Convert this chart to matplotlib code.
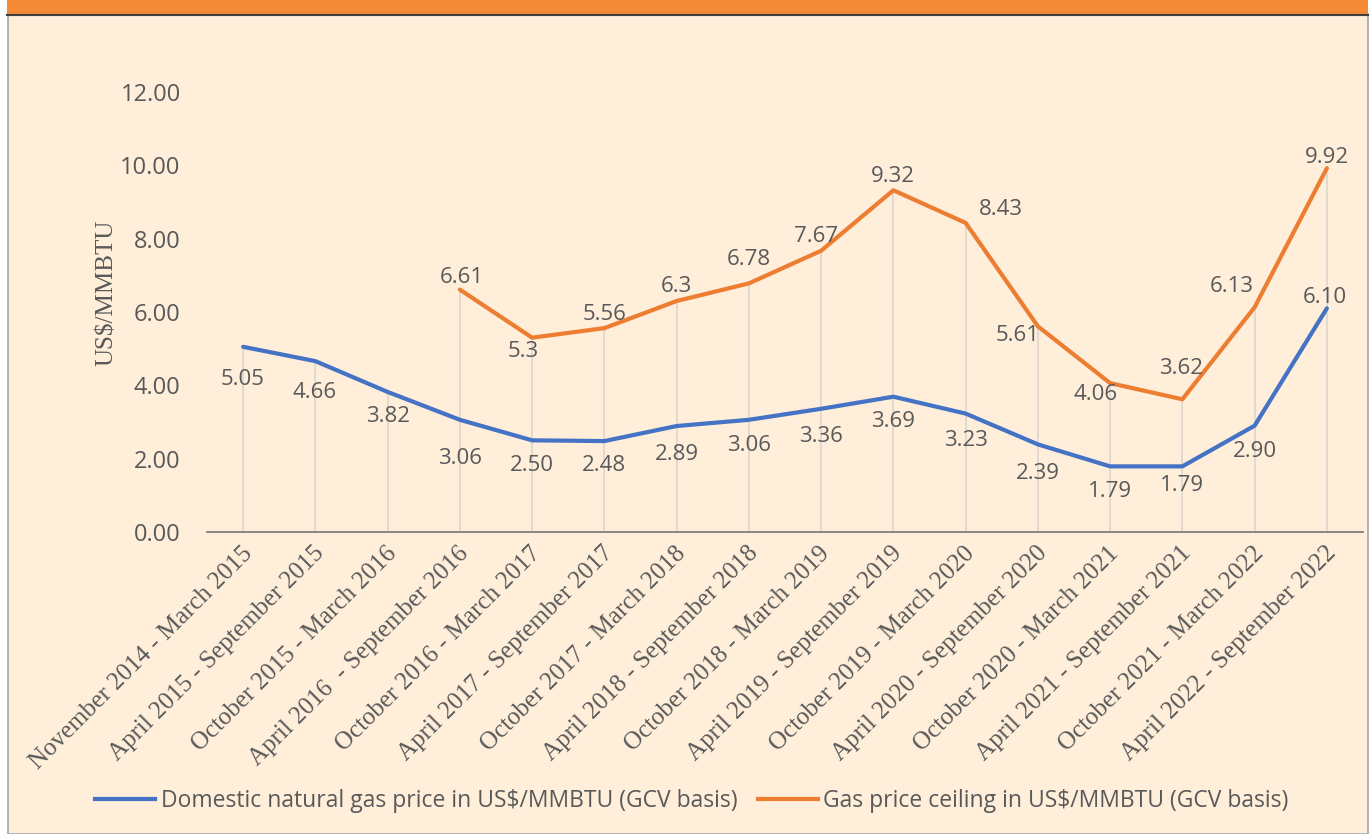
import numpy as np
import matplotlib.pyplot as plt
import matplotlib.transforms as mtrans
from matplotlib.patches import Rectangle
from matplotlib.lines import Line2D

periods = [
    'November 2014 - March 2015', 'April 2015 - September 2015',
    'October 2015 - March 2016', 'April 2016  - September 2016',
    'October 2016 - March 2017', 'April 2017 - September 2017',
    'October 2017 - March 2018', 'April 2018 - September 2018',
    'October 2018 - March 2019', 'April 2019 - September 2019',
    'October 2019 - March 2020', 'April 2020 - September 2020',
    'October 2020 - March 2021', 'April 2021 - September 2021',
    'October 2021 - March 2022', 'April 2022 - September 2022',
]
domestic = [5.05, 4.66, 3.82, 3.06, 2.50, 2.48, 2.89, 3.06, 3.36, 3.69,
            3.23, 2.39, 1.79, 1.79, 2.90, 6.10]
ceiling = [np.nan, np.nan, np.nan, 6.61, 5.3, 5.56, 6.3, 6.78, 7.67, 9.32,
           8.43, 5.61, 4.06, 3.62, 6.13, 9.92]
ceiling_txt = ['', '', '', '6.61', '5.3', '5.56', '6.3', '6.78', '7.67', '9.32',
               '8.43', '5.61', '4.06', '3.62', '6.13', '9.92']

# label placement (pixels from the point)
dom_off = [(-1, -33), (-1, -31), (0, -25), (0, -39), (0, -25), (0, -24), (0, -28),
           (0, -26), (0, -28), (0, -25), (0, -27), (0, -29), (0, -25), (0, -19),
           (0, -26), (-2, 11)]
ceil_off = [(0, 0), (0, 0), (0, 0), (2, 12), (-9, -14), (0, 14), (0, 14), (0, 24),
            (-5, 14), (0, 14), (35, 13), (-20, -9), (-15, -11), (-1, 31),
            (-23, 21), (0, 11)]

BLUE = '#4472C4'
ORANGE = '#ED7D31'
GREY = '#595959'
BG = '#FEEEDA'

W, H = 1371, 834
fig = plt.figure(figsize=(W / 100, H / 100), dpi=100, facecolor='white')

# panel background, border and orange header strip
fig.patches.append(Rectangle((8 / W, 0), 1360 / W, 1 - 14 / H, transform=fig.transFigure,
                             facecolor=BG, edgecolor='#A6A6A6', lw=1.2, zorder=-10))
fig.patches.append(Rectangle((7 / W, 1 - 14 / H), 1361 / W, 14 / H, transform=fig.transFigure,
                             facecolor='#F58A36', edgecolor='none', zorder=-9))
fig.lines.append(Line2D([7 / W, 1368 / W], [1 - 14.5 / H] * 2, transform=fig.transFigure,
                        color='#404040', lw=1.5, zorder=-8))

ax = fig.add_axes([207 / W, 1 - 532 / H, (1363 - 207) / W, (532 - 92) / H])
ax.set_facecolor('none')
x = np.arange(len(periods))

# drop lines
tops = np.fmax(np.array(domestic), np.array(ceiling))
ax.vlines(x, 0, tops, color='#DCD6CE', lw=1.2, zorder=1)

ax.plot(x, domestic, color=BLUE, lw=3, solid_capstyle='round', zorder=3)
ax.plot(x, ceiling, color=ORANGE, lw=3, solid_capstyle='round', zorder=3)

for i, v in enumerate(domestic):
    ax.annotate(f'{v:.2f}', (i, v), xytext=dom_off[i], textcoords='offset pixels',
                ha='center', va='center', fontsize=16, color=GREY, family='Open Sans')
for i, v in enumerate(ceiling):
    if ceiling_txt[i]:
        ax.annotate(ceiling_txt[i], (i, v), xytext=ceil_off[i], textcoords='offset pixels',
                    ha='center', va='center', fontsize=16, color=GREY, family='Open Sans')

ax.set_xlim(-0.5, len(periods) - 0.5)
ax.set_ylim(0, 12)
ax.set_yticks(np.arange(0, 13, 2))
ax.set_yticklabels([f'{t:.2f}' for t in np.arange(0, 13, 2)], family='Open Sans',
                   fontsize=17, color=GREY)
ax.set_xticks(x)
ax.set_xticklabels(periods, rotation=45, ha='right', va='center', rotation_mode='anchor',
                   family='Liberation Serif', fontsize=18, color=GREY)
ax.tick_params(axis='both', length=0)
ax.tick_params(axis='y', pad=19)
ax.tick_params(axis='x', pad=13)
shift = mtrans.ScaledTranslation(4 / 72, 0, fig.dpi_scale_trans)
for lab in ax.get_xticklabels():
    lab.set_transform(lab.get_transform() + shift)

for s in ['left', 'right', 'top']:
    ax.spines[s].set_visible(False)
ax.spines['bottom'].set_color('#7F7F7F')
ax.spines['bottom'].set_linewidth(1.3)

fig.text(107 / W, 1 - 293 / H, 'US$/MMBTU', rotation=90, ha='center', va='center',
         family='Liberation Serif', fontsize=18, color=GREY)

handles = [Line2D([], [], color=BLUE, lw=3), Line2D([], [], color=ORANGE, lw=3)]
fig.legend(handles, ['Domestic natural gas price in US$/MMBTU (GCV basis)',
                     'Gas price ceiling in US$/MMBTU (GCV basis)'],
           loc='center', bbox_to_anchor=(692 / W, 1 - 801 / H), ncol=2, frameon=False,
           prop={'family': 'Open Sans', 'size': 16.5}, labelcolor=GREY,
           handlelength=2.6, handletextpad=0.25, columnspacing=0.9)

fig.savefig('out.png', dpi=100, facecolor=fig.get_facecolor())
